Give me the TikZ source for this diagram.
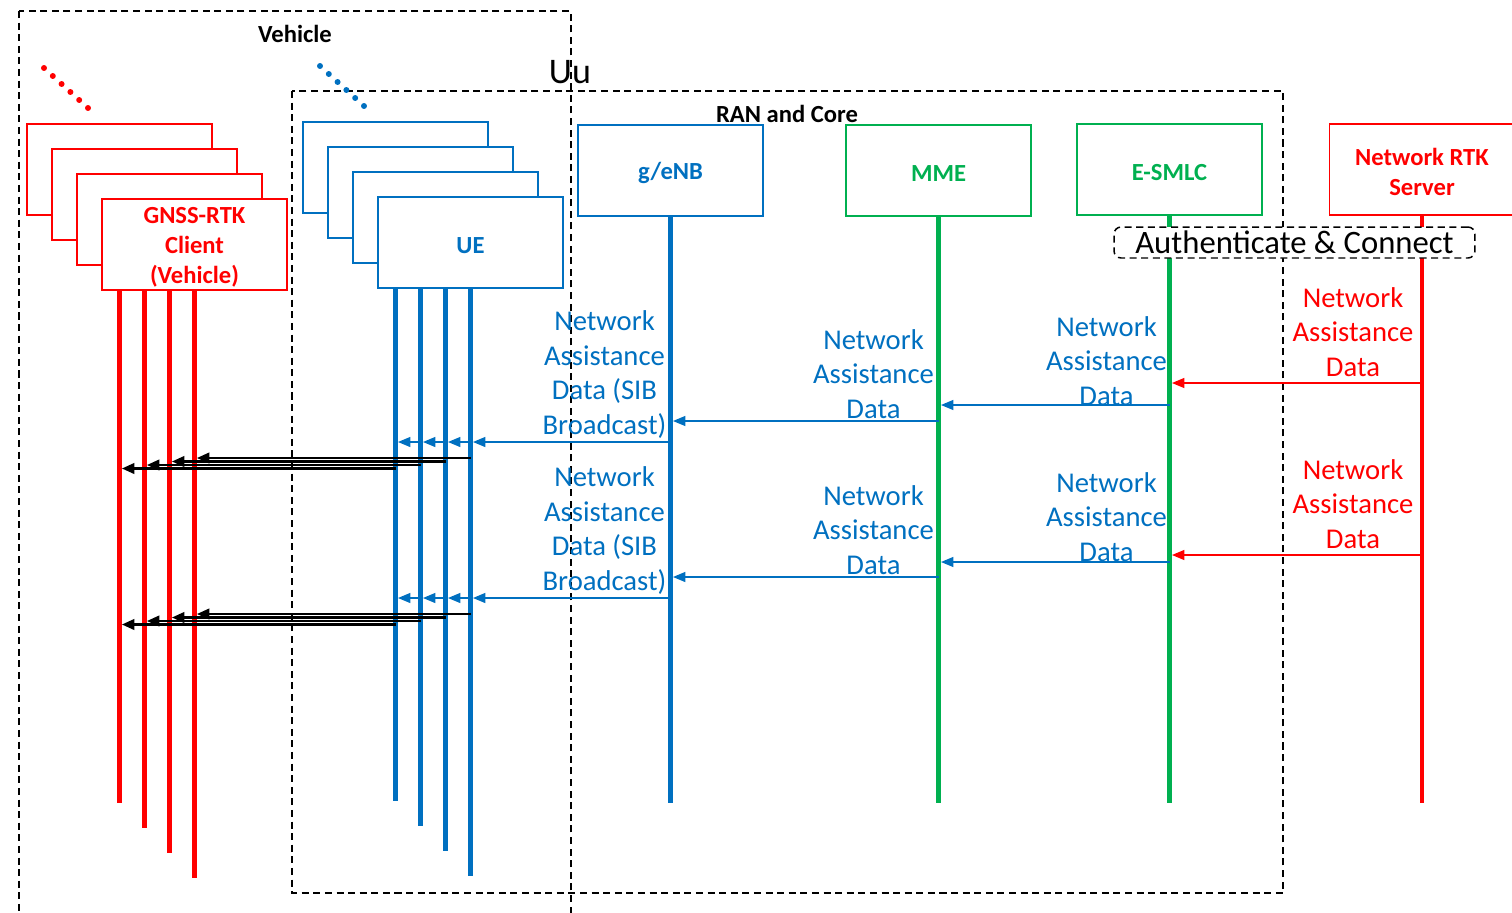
\documentclass[tikz,border=0pt]{standalone}
\usepackage{fontspec}
\setmainfont{Carlito}
\usetikzlibrary{arrows.meta}
\definecolor{ublue}{HTML}{0070C0}
\definecolor{ugreen}{HTML}{00B050}
\definecolor{ured}{HTML}{FF0000}
\tikzset{
  ent/.style={draw, line width=1.1pt, fill=white, minimum width=3.7cm, minimum height=1.82cm,
    inner sep=0pt},
  enttxt/.style={label={[align=center, yshift=-1.6pt, inner sep=0pt,
    font=\fontsize{14pt}{17pt}\selectfont\bfseries]center:{#1}}},
  life/.style={line width=2.8pt},
  frame/.style={draw=black, line width=0.85pt, dash pattern=on 4pt off 2.6pt},
  msgtxt/.style={align=center, font=\fontsize{16.3pt}{19.8pt}\selectfont, inner sep=0pt},
  msg/.style={line width=0.85pt, -{Triangle[length=7pt,width=5.6pt]}, shorten >=1.4pt},
  fwd/.style={line width=1.2pt, black, -{Triangle[length=7pt,width=6pt]}, shorten >=1.4pt},
}
\begin{document}
\begin{tikzpicture}[x=0.02cm,y=-0.02cm]
\useasboundingbox (0,0) rectangle (1512,913);

% enclosing dashed frames
\draw[frame] (19,11) rectangle (571,940);
\draw[frame] (292,91) rectangle (1283,893);
\node[font=\fontsize{14pt}{17pt}\selectfont\bfseries] (veh) at (295,34) {Vehicle};
\node[font=\fontsize{14pt}{17pt}\selectfont\bfseries] (ran) at (787,114) {RAN and Core};
\node[font=\fontsize{20.5pt}{22pt}\selectfont, inner sep=0pt] (uu) at (570,72) {Uu};

% ellipsis dots above the stacks
\foreach \i in {0,...,5} {
  \fill[ured] (44+8.8*\i,68+8*\i) circle[radius=1.7pt];
  \fill[ublue] (320+8.8*\i,66+8*\i) circle[radius=1.7pt];
}

% stacked GNSS-RTK clients
\node[ent, draw=ured] (g1) at (119.5,169.5) {};
\node[ent, draw=ured] (g2) at (144.5,194.5) {};
\node[ent, draw=ured] (g3) at (169.5,219.5) {};
\node[ent, draw=ured, label text/.style={}, enttxt={\color{ured}GNSS-RTK\\\color{ured}Client\\\color{ured}(Vehicle)}] (g4) at (194.5,244.5) {};

% stacked UEs
\node[ent, draw=ublue] (u1) at (395.5,167.5) {};
\node[ent, draw=ublue] (u2) at (420.5,192.5) {};
\node[ent, draw=ublue] (u3) at (445.5,217.5) {};
\node[ent, draw=ublue, enttxt={\color{ublue}UE}] (u4) at (470.5,242.5) {};

% network entities
\node[ent, draw=ublue, enttxt={\color{ublue}g/eNB}] (gnb) at (670.5,170.5) {};
\node[ent, draw=ugreen, enttxt={\color{ugreen}MME}] (mme) at (938.5,170.5) {};
\node[ent, draw=ugreen, enttxt={\color{ugreen}E-SMLC}] (smlc) at (1169.5,169.5) {};
\node[ent, draw=ured, enttxt={\color{ured}Network RTK\\\color{ured}Server}] (rtk) at (1422,169.5) {};

% lifeline end points
\coordinate (eg1) at (0,803); \coordinate (eg2) at (0,828);
\coordinate (eg3) at (0,853); \coordinate (eg4) at (0,878);
\coordinate (eu1) at (0,801); \coordinate (eu2) at (0,826);
\coordinate (eu3) at (0,851); \coordinate (eu4) at (0,876);
\coordinate (enet) at (0,803);

% lifelines
\foreach \n/\e in {g1/eg1,g2/eg2,g3/eg3,g4/eg4}
  \draw[life, ured] (\n |- g4.south) -- (\n |- \e);
\foreach \n/\e in {u1/eu1,u2/eu2,u3/eu3,u4/eu4}
  \draw[life, ublue] (\n |- u4.south) -- (\n |- \e);
\draw[life, ublue] (gnb.south) -- (gnb |- enet);
\draw[life, ugreen] (mme.south) -- (mme |- enet);
\draw[life, ugreen] (smlc.south) -- (smlc |- enet);
\draw[life, ured] (rtk.south) -- (rtk |- enet);

% authentication step
\node[draw=black, line width=0.85pt, dash pattern=on 4pt off 2.6pt, rounded corners=4pt, fill=white,
  minimum width=7.22cm, minimum height=0.62cm, inner sep=0pt,
  font=\fontsize{18.6pt}{20pt}\selectfont] (auth) at (1294.5,242.5) {Authenticate \& Connect};

% two rounds of assistance data delivery
\foreach \r/\ya/\yb/\yc/\yd/\ye/\la/\lb/\lc/\ld in
  {1/383/405/421/442/458/332/361/374/374.5,
   2/555/562/577/598/614/504/517/530/530.5} {
  \coordinate (ma\r) at (0,\ya);
  \coordinate (mb\r) at (0,\yb);
  \coordinate (mc\r) at (0,\yc);
  \coordinate (md\r) at (0,\yd);
  \coordinate (f4\r) at (0,\ye);
  \coordinate (f3\r) at (0,\ye+3.5);
  \coordinate (f2\r) at (0,\ye+7);
  \coordinate (f1\r) at (0,\ye+10.5);
  \node[msgtxt, text=ured] (la\r) at (1353,\la) {Network\\Assistance\\Data};
  \node[msgtxt, text=ublue] (lb\r) at (1106.5,\lb) {Network\\Assistance\\Data};
  \node[msgtxt, text=ublue] (lc\r) at (873.5,\lc) {Network\\Assistance\\Data};
  \node[msgtxt, text=ublue] (ld\r) at (604.5,\ld) {Network\\Assistance\\Data (SIB\\Broadcast)};
  \draw[msg, ured] (rtk |- ma\r) -- (smlc |- ma\r);
  \draw[msg, ublue] (smlc |- mb\r) -- (mme |- mb\r);
  \draw[msg, ublue] (mme |- mc\r) -- (gnb |- mc\r);
  \draw[msg, ublue] (gnb |- md\r) -- (u4 |- md\r);
  \draw[msg, ublue] (u4 |- md\r) -- (u3 |- md\r);
  \draw[msg, ublue] (u3 |- md\r) -- (u2 |- md\r);
  \draw[msg, ublue] (u2 |- md\r) -- (u1 |- md\r);
  \draw[fwd] (u4 |- f4\r) -- (g4 |- f4\r);
  \draw[fwd] (u3 |- f3\r) -- (g3 |- f3\r);
  \draw[fwd] (u2 |- f2\r) -- (g2 |- f2\r);
  \draw[fwd] (u1 |- f1\r) -- (g1 |- f1\r);
}
\end{tikzpicture}
\end{document}
